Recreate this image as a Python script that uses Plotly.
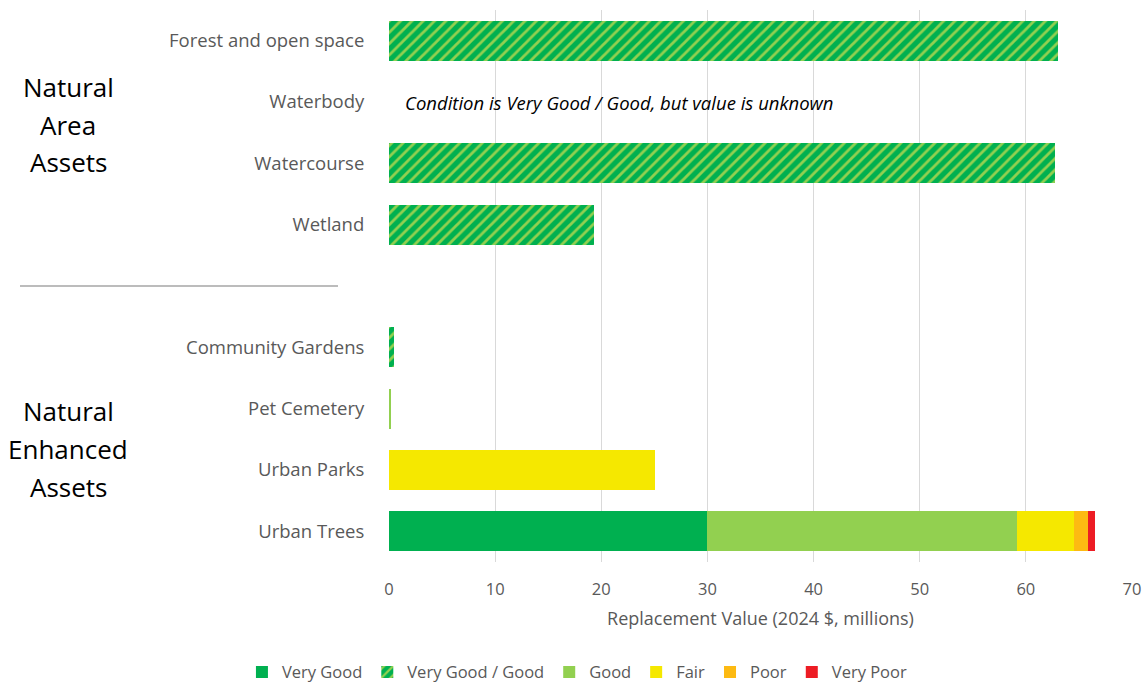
import plotly.graph_objects as go

categories = ["Forest and open space", "Waterbody", "Watercourse", "Wetland", " ",
              "Community Gardens", "Pet Cemetery", "Urban Parks", "Urban Trees"]

very_good = [None, None, None, None, None, None, None, None, 30.0]
very_good_good = [63.0, None, 62.7, 19.3, None, 0.45, None, None, None]
good = [None, None, None, None, None, None, 0.2, None, 29.2]
fair = [None, None, None, None, None, None, None, 25.1, 5.3]
poor = [None, None, None, None, None, None, None, None, 1.35]
very_poor = [None, None, None, None, None, None, None, None, 0.65]

x_ticks = [0, 10, 20, 30, 40, 50, 60, 70]

group1_lines = ["Natural", "Area", "Assets"]
group2_lines = ["Natural", "Enhanced", "Assets"]

C_VG = "#00B050"
C_G = "#92D050"
C_F = "#F5E800"
C_P = "#FDBA12"
C_VP = "#ED1C24"

fig = go.Figure()
common = dict(orientation="h", width=0.65)

fig.add_trace(go.Bar(y=categories, x=very_good, name="Very Good",
                     marker=dict(color=C_VG, line=dict(width=0)), **common))
fig.add_trace(go.Bar(y=categories, x=very_good_good, name="Very Good / Good",
                     marker=dict(color=C_VG, line=dict(width=0),
                                 pattern=dict(shape="/", fgcolor=C_G, bgcolor=C_VG,
                                              size=8, solidity=0.35, fillmode="replace")),
                     **common))
fig.add_trace(go.Bar(y=categories, x=good, name="Good",
                     marker=dict(color=C_G, line=dict(width=0)), **common))
fig.add_trace(go.Bar(y=categories, x=fair, name="Fair",
                     marker=dict(color=C_F, line=dict(width=0)), **common))
fig.add_trace(go.Bar(y=categories, x=poor, name="Poor",
                     marker=dict(color=C_P, line=dict(width=0)), **common))
fig.add_trace(go.Bar(y=categories, x=very_poor, name="Very Poor",
                     marker=dict(color=C_VP, line=dict(width=0)), **common))

FONT = "Open Sans"
GRAY = "#595959"

fig.update_layout(
    barmode="stack",
    width=1148, height=690,
    margin=dict(l=389, r=16, t=10, b=128, autoexpand=False),
    paper_bgcolor="white", plot_bgcolor="white",
    font=dict(family=FONT, color=GRAY, size=17),
    xaxis=dict(range=[0, 70], tickvals=x_ticks, showgrid=True, gridcolor="#D9D9D9",
               gridwidth=1, zeroline=False, showline=False, automargin=False,
               ticks="outside", ticklen=12, tickcolor="rgba(0,0,0,0)",
               tickfont=dict(size=16.5, color=GRAY),
               title=dict(text="Replacement Value (2024 $, millions)",
                          font=dict(size=18, color=GRAY), standoff=13)),
    yaxis=dict(categoryorder="array", categoryarray=categories, autorange="reversed",
               showgrid=False, zeroline=False, showline=False, automargin=False,
               ticks="outside", ticklen=20, tickcolor="rgba(0,0,0,0)",
               tickfont=dict(size=18.5, color=GRAY)),
    legend=dict(orientation="h", xref="container", x=0.503, xanchor="center",
                yref="paper", y=-0.168, yanchor="top",
                font=dict(size=16.5, color=GRAY), traceorder="normal",
                itemwidth=30),
)

fig.add_annotation(xref="paper", yref="y", x=0.019, y="Waterbody", xanchor="left",
                   text="<i>Condition is Very Good / Good, but value is unknown</i>",
                   showarrow=False, font=dict(size=18.5, color="#000000"))

H = 690
def py(pix):
    return (H - 128 - pix) / (H - 128 - 10)

def px(pix):
    return (pix - 389) / (1148 - 389 - 16)

for txt, yp in zip(group1_lines, [87, 125, 162]):
    fig.add_annotation(xref="paper", yref="paper", x=px(68), y=py(yp), xanchor="center",
                       yanchor="middle", text=txt, showarrow=False,
                       font=dict(size=26, color="#000000"))
for txt, yp in zip(group2_lines, [411, 449, 487]):
    fig.add_annotation(xref="paper", yref="paper", x=px(68), y=py(yp), xanchor="center",
                       yanchor="middle", text=txt, showarrow=False,
                       font=dict(size=26, color="#000000"))

fig.add_shape(type="line", xref="paper", yref="y", x0=px(20), x1=px(338),
              y0=4.0, y1=4.0, line=dict(color="#A6A6A6", width=1.5))

fig.write_html("out.html")
